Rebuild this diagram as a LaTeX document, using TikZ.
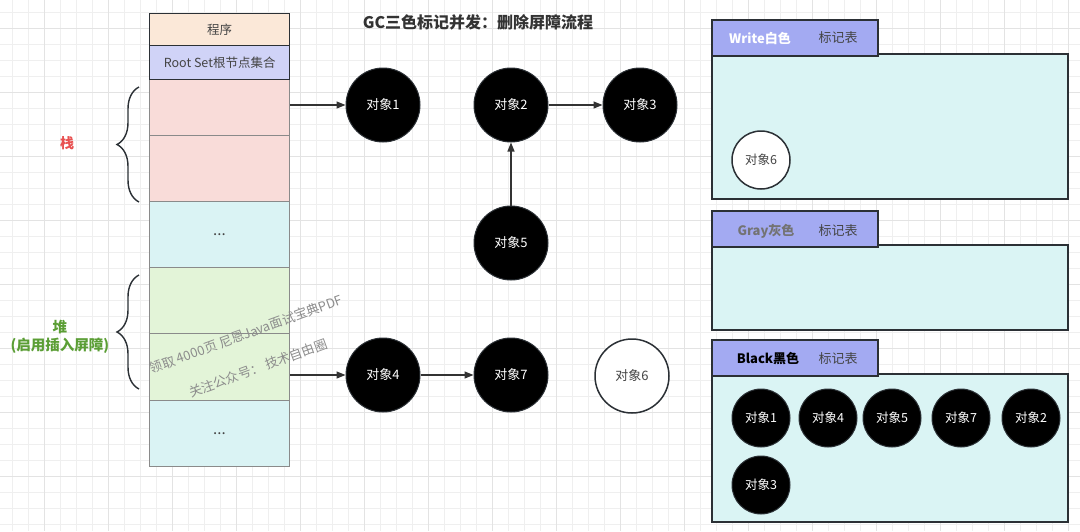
\documentclass[tikz,border=0pt]{standalone}
\usepackage{fontspec}
\setmainfont{Noto Sans CJK SC}
\usetikzlibrary{arrows.meta,decorations.pathreplacing}
\definecolor{gridminor}{HTML}{EFEFEF}
\definecolor{gridmajor}{HTML}{E3E3E3}
\definecolor{peach}{HTML}{FBE8D8}
\definecolor{rootblue}{HTML}{D0D3F7}
\definecolor{pinkcell}{HTML}{F9DCD9}
\definecolor{cyancell}{HTML}{DAF3F4}
\definecolor{greencell}{HTML}{E3F4D8}
\definecolor{cellborder}{HTML}{8A8A8A}
\definecolor{darkline}{HTML}{2B3035}
\definecolor{headfill}{HTML}{A3AAF2}
\definecolor{panelfill}{HTML}{DAF4F4}
\definecolor{txtgray}{HTML}{444444}
\definecolor{wmgray}{HTML}{8C8C8C}
\definecolor{stackred}{HTML}{E85050}
\definecolor{heapgreen}{HTML}{5B9E35}
\definecolor{arrowcol}{HTML}{333333}
\begin{document}
\begin{tikzpicture}[x=1pt,y=-1pt,
  cell/.style={draw=cellborder, line width=1pt, minimum width=140pt, inner sep=0pt, anchor=north west, font=\fontsize{12.5}{14}\selectfont, text=txtgray},
  topcell/.style={cell, draw=darkline, line width=1.3pt},
  obj/.style={circle, fill=black, draw=darkline, line width=1pt, minimum size=74pt, inner sep=0pt, text=white, font=\fontsize{13}{15}\selectfont},
  wobj/.style={obj, fill=white, line width=1.5pt, text=txtgray},
  sobj/.style={obj, minimum size=58pt, font=\fontsize{12.5}{14}\selectfont},
  swobj/.style={sobj, fill=white, line width=1.5pt, text=txtgray},
  arr/.style={-{Triangle[length=9pt,width=7pt]}, line width=1.2pt, draw=arrowcol},
  bracestyle/.style={decorate, decoration={brace, amplitude=22pt}, line width=1.4pt, draw=darkline},
  head/.style={draw=darkline, fill=headfill, line width=1.5pt, minimum width=166pt, minimum height=36pt, anchor=north west, inner sep=0pt},
  panel/.style={draw=darkline, fill=panelfill, line width=1.5pt, minimum width=356pt, anchor=north west, inner sep=0pt},
  headtxt/.style={font=\fontsize{13}{15}\selectfont, text=txtgray},
  wm/.style={font=\fontsize{13}{14}\selectfont, text=wmgray, inner sep=0pt, rotate=20}
]
\useasboundingbox (0,0) rectangle (1080,531);
\fill[white] (0,0) rectangle (1080,531);
% grid
\foreach \x in {12,28,...,1080} \draw[gridminor, line width=0.8pt] (\x,0) -- (\x,531);
\foreach \y in {12,28,...,531} \draw[gridminor, line width=0.8pt] (0,\y) -- (1080,\y);
\foreach \x in {44,108,...,1080} \draw[gridmajor, line width=1pt] (\x,0) -- (\x,531);
\foreach \y in {28,92,...,531} \draw[gridmajor, line width=1pt] (0,\y) -- (1080,\y);

% title
\node[font=\bfseries\fontsize{16}{18}\selectfont, text=arrowcol] (title) at (478,22) {GC三色标记并发：删除屏障流程};

% stack column
\node[cell, fill=pinkcell, minimum height=56pt] (s1) at (149,79) {};
\node[cell, fill=pinkcell, minimum height=66pt] (s2) at (149,135) {};
\node[cell, fill=cyancell, minimum height=66pt, font=\fontsize{15}{16}\selectfont] (s3) at (149,201) {...};
\node[cell, fill=greencell, minimum height=66pt] (h1) at (149,267) {};
\node[cell, fill=greencell, minimum height=67pt] (h2) at (149,333) {};
\node[cell, fill=cyancell, minimum height=66pt, font=\fontsize{15}{16}\selectfont] (h3) at (149,400) {...};
\node[topcell, fill=peach, minimum height=32pt] (prog) at (149,13) {程序};
\node[topcell, fill=rootblue, minimum height=34pt] (root) at (149,45) {Root Set根节点集合};

% braces and labels
\coordinate (b1a) at (139,202);
\coordinate (b1b) at (139,87);
\draw[bracestyle] (b1a) -- (b1b);
\node[font=\bfseries\fontsize{14}{16}\selectfont, text=stackred] (stacklbl) at (67,143) {栈};
\coordinate (b2a) at (139,389);
\coordinate (b2b) at (139,275);
\draw[bracestyle] (b2a) -- (b2b);
\node[font=\bfseries\fontsize{14.5}{18}\selectfont, text=heapgreen, align=center] (heaplbl) at (60,337) {堆\\(启用插入屏障)};

% watermark
\node[wm] (wm1) at (246,334) {领取 4000页 尼恩Java面试宝典PDF};
\node[wm] (wm2) at (258,368) {关注公众号： 技术自由圈};

% objects
\node[obj] (o1) at (383,105) {对象1};
\node[obj] (o2) at (511,105) {对象2};
\node[obj] (o3) at (640,105) {对象3};
\node[obj] (o5) at (511,243) {对象5};
\node[obj] (o4) at (383,375) {对象4};
\node[obj] (o7) at (511,375) {对象7};
\node[wobj] (o6) at (632,376) {对象6};

% arrows
\draw[arr] (s1.east |- o1) -- (o1.west);
\draw[arr] (o2) -- (o3);
\draw[arr] (o5) -- (o2);
\draw[arr] (h2.east |- o4) -- (o4.west);
\draw[arr] (o4) -- (o7);

% Write panel
\node[panel, minimum height=145pt] (wbody) at (711,53) {};
\node[head] (whead) at (711,19) {};
\node[headtxt, font=\bfseries\fontsize{13}{15}\selectfont, text=white] (wt1) at (760,38) {Write白色};
\node[headtxt] (wt2) at (838,38) {标记表};
\node[swobj] (w6) at (761,160) {对象6};

% Gray panel
\node[panel, minimum height=85pt] (gbody) at (711,244) {};
\node[head] (ghead) at (711,210) {};
\node[headtxt, font=\bfseries\fontsize{13}{15}\selectfont, text=gray!90!black] (gt1) at (766,231) {Gray灰色};
\node[headtxt] (gt2) at (838,231) {标记表};

% Black panel
\node[panel, minimum height=148pt] (bbody) at (711,373) {};
\node[head] (bhead) at (711,339) {};
\node[headtxt, font=\bfseries\fontsize{13}{15}\selectfont, text=black] (bt1) at (768,359) {Black黑色};
\node[headtxt] (bt2) at (838,359) {标记表};
\node[sobj] (b1) at (761,418) {对象1};
\node[sobj] (b4) at (828,418) {对象4};
\node[sobj] (b5) at (892,418) {对象5};
\node[sobj] (b7) at (961,418) {对象7};
\node[sobj] (b2) at (1031,418) {对象2};
\node[sobj] (b3) at (761,485) {对象3};
\end{tikzpicture}
\end{document}
